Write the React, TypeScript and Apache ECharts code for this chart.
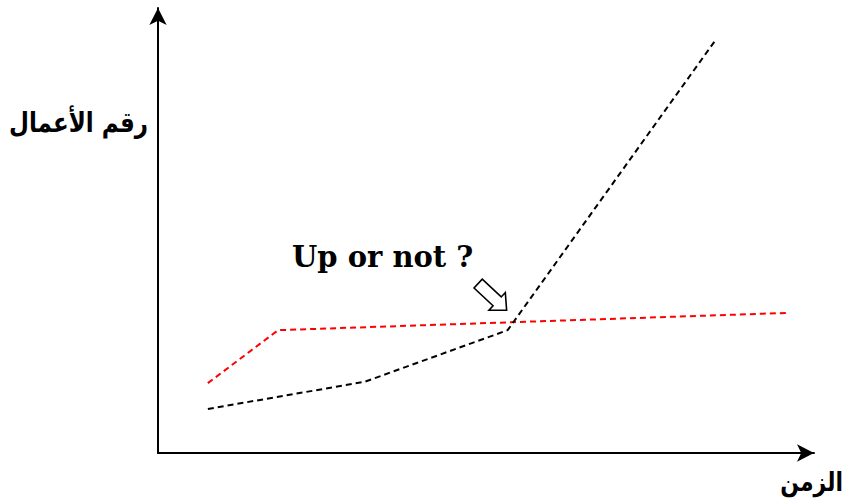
import React, { useEffect, useRef } from "react";
import * as echarts from "echarts";

// Time axis positions (arbitrary units, 0..100)
const blackX = [7.6, 31.5, 53.3, 84.8];
const blackY = [9.9, 16.0, 27.6, 92.4];
const redX = [7.6, 18.3, 96.2];
const redY = [15.7, 27.6, 31.5];

const yAxisTitle = "رقم الأعمال";
const xAxisTitle = "الزمن";
const question = "Up or not ?";

export default function App() {
  const ref = useRef<HTMLDivElement>(null);

  useEffect(() => {
    if (!ref.current) return;
    const chart = echarts.init(ref.current, null, { renderer: "svg" });

    const axisLine = {
      show: true,
      onZero: false,
      symbol: ["none", "arrow"],
      symbolSize: [13, 17],
      lineStyle: { color: "#000", width: 2 },
    };

    chart.setOption({
      animation: false,
      backgroundColor: "#fff",
      grid: { left: 158, right: 31, top: 8, bottom: 49 },
      xAxis: {
        type: "value",
        min: 0,
        max: 100,
        axisLine,
        axisTick: { show: false },
        axisLabel: { show: false },
        splitLine: { show: false },
      },
      yAxis: {
        type: "value",
        min: 0,
        max: 100,
        axisLine,
        axisTick: { show: false },
        axisLabel: { show: false },
        splitLine: { show: false },
      },
      series: [
        {
          type: "line",
          data: redX.map((x, i) => [x, redY[i]]),
          showSymbol: false,
          lineStyle: { color: "#ff0000", width: 2, type: [6, 4] },
        },
        {
          type: "line",
          data: blackX.map((x, i) => [x, blackY[i]]),
          showSymbol: false,
          lineStyle: { color: "#000", width: 2, type: [6, 4] },
        },
      ],
    });

    // Hollow pointer aimed at the bend of the black curve
    const bend = chart.convertToPixel({ gridIndex: 0 }, [blackX[2], blackY[2]]) as number[];
    const tipX = bend[0] - 1;
    const tipY = bend[1] - 20;
    const ang = (43 * Math.PI) / 180;
    const len = 39;
    const tailX = tipX - len * Math.cos(ang);
    const tailY = tipY - len * Math.sin(ang);

    chart.setOption({
      graphic: [
        {
          type: "text",
          x: 148,
          y: 122,
          scaleY: 1.2,
          style: {
            text: yAxisTitle,
            font: "bold 23px 'DejaVu Sans'",
            fill: "#000",
            align: "right",
            verticalAlign: "middle",
          },
        },
        {
          type: "text",
          x: 843,
          y: 482,
          scaleY: 1.2,
          style: {
            text: xAxisTitle,
            font: "bold 22px 'DejaVu Sans'",
            fill: "#000",
            align: "right",
            verticalAlign: "middle",
          },
        },
        {
          type: "text",
          x: 292,
          y: 257,
          style: {
            text: question,
            font: "bold 29px 'DejaVu Serif'",
            fill: "#000",
            align: "left",
            verticalAlign: "middle",
          },
        },
        {
          type: "polygon",
          x: tailX,
          y: tailY,
          rotation: -ang,
          shape: {
            points: [
              [0, -6],
              [len - 13, -6],
              [len - 13, -12],
              [len, 0],
              [len - 13, 12],
              [len - 13, 6],
              [0, 6],
            ],
          },
          style: { fill: "#fff", stroke: "#000", lineWidth: 1.6 },
          z: 10,
        },
      ],
    });

    return () => chart.dispose();
  }, []);

  return (
    <div
      ref={ref}
      style={{ position: "fixed", left: 0, top: 0, width: 845, height: 502 }}
    />
  );
}
